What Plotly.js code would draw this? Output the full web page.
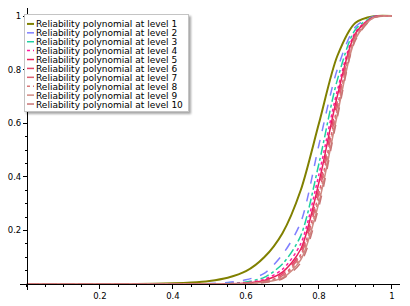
<!DOCTYPE html>
<html><head><meta charset="utf-8">
<script src="https://cdn.plot.ly/plotly-3.0.1.min.js"></script>
<style>body{margin:0;background:#fff}#c{width:410px;height:306px}</style>
</head><body><div id="c"></div>
<script>
const xs = [0, 0.1, 0.2, 0.3, 0.4, 0.45, 0.5, 0.55, 0.6, 0.65, 0.7, 0.75, 0.8, 0.85, 0.9, 0.95, 1];
const level1  = [0, 0, 0.0001, 0.0005, 0.003, 0.006, 0.012, 0.024, 0.048, 0.1, 0.19, 0.35, 0.6, 0.85, 0.975, 0.999, 1];
const level2  = [0, 0, 0, 0, 0.0003, 0.0008, 0.002, 0.006, 0.016, 0.04, 0.11, 0.23, 0.52, 0.8, 0.96, 0.998, 1];
const level3  = [0, 0, 0, 0, 0.0001, 0.0002, 0.0005, 0.002, 0.008, 0.025, 0.075, 0.18, 0.45, 0.76, 0.95, 0.997, 1];
const level4  = [0, 0, 0, 0, 0, 0.0001, 0.0003, 0.0015, 0.005, 0.018, 0.055, 0.15, 0.41, 0.72, 0.94, 0.996, 1];
const level5  = [0, 0, 0, 0, 0, 0.0001, 0.0002, 0.001, 0.004, 0.014, 0.045, 0.13, 0.38, 0.70, 0.935, 0.996, 1];
const level6  = [0, 0, 0, 0, 0, 0, 0.0002, 0.0008, 0.0035, 0.012, 0.038, 0.12, 0.36, 0.68, 0.93, 0.995, 1];
const level7  = [0, 0, 0, 0, 0, 0, 0.0001, 0.0007, 0.003, 0.01, 0.032, 0.11, 0.34, 0.66, 0.925, 0.995, 1];
const level8  = [0, 0, 0, 0, 0, 0, 0.0001, 0.0006, 0.0026, 0.008, 0.027, 0.10, 0.32, 0.645, 0.92, 0.994, 1];
const level9  = [0, 0, 0, 0, 0, 0, 0.0001, 0.0005, 0.0023, 0.007, 0.023, 0.09, 0.305, 0.63, 0.915, 0.994, 1];
const level10 = [0, 0, 0, 0, 0, 0, 0, 0.0005, 0.002, 0.006, 0.02, 0.08, 0.29, 0.62, 0.91, 0.993, 1];
const names = ["Reliability polynomial at level 1","Reliability polynomial at level 2","Reliability polynomial at level 3","Reliability polynomial at level 4","Reliability polynomial at level 5","Reliability polynomial at level 6","Reliability polynomial at level 7","Reliability polynomial at level 8","Reliability polynomial at level 9","Reliability polynomial at level 10"];
const xTickVals = [0.2, 0.4, 0.6, 0.8, 1];
const xTickText = ["0.2", "0.4", "0.6", "0.8", "1"];
const yTickVals = [0.2, 0.4, 0.6, 0.8, 1];
const yTickText = ["0.2", "0.4", "0.6", "0.8", "1"];

const series = [level1, level2, level3, level4, level5, level6, level7, level8, level9, level10];
const colors = ["#808000", "#7f7fff", "#20d0a0", "#ff1aa0", "#e8205a", "#e24468", "#dc6070", "#d87878", "#cf8a82", "#c87474"];
const dashes = ["solid", "dash", "dashdot", "dot", "solid", "dash", "dashdot", "dot", "solid", "dash"];
const widths = [2, 1.5, 1.5, 1.5, 1.5, 1.5, 1.5, 1.5, 1.5, 1.5];

const traces = series.map((ys, i) => ({
  x: xs, y: ys, name: names[i], type: "scatter", mode: "lines",
  line: {color: colors[i], dash: dashes[i], width: widths[i], shape: "spline", smoothing: 0.8}
}));

const layout = {
  width: 410, height: 306,
  margin: {l: 20, r: 10, t: 8, b: 16, pad: 0},
  paper_bgcolor: "#fff", plot_bgcolor: "#fff",
  font: {family: "DejaVu Sans", size: 8, color: "#000"},
  showlegend: true,
  legend: {x: 0.0105, y: 0.979, xanchor: "left", yanchor: "top", bgcolor: "#fff",
           bordercolor: "#c4c4c4", borderwidth: 1, font: {family: "DejaVu Sans", size: 9, color: "#000"},
           itemwidth: 30, tracegroupgap: 0},
  xaxis: {range: [-0.019, 1.022], anchor: "free", position: 0.0209, showgrid: false, zeroline: false,
          showline: true, linecolor: "#000", linewidth: 1,
          tickmode: "array", tickvals: xTickVals, ticktext: xTickText, ticks: "outside", ticklen: 4,
          tickcolor: "#000", tickfont: {family: "DejaVu Sans", size: 8.5},
          minor: {dtick: 0.05, ticks: "outside", ticklen: 2, tickcolor: "#000", showgrid: false}},
  yaxis: {range: [-0.022, 1.03], anchor: "free", position: 0.0183, showgrid: false, zeroline: false,
          showline: true, linecolor: "#000", linewidth: 1,
          tickmode: "array", tickvals: yTickVals, ticktext: yTickText, ticks: "outside", ticklen: 4,
          tickcolor: "#000", tickfont: {family: "DejaVu Sans", size: 8.5},
          minor: {dtick: 0.05, ticks: "outside", ticklen: 2, tickcolor: "#000", showgrid: false}}
};
Plotly.newPlot("c", traces, layout, {displayModeBar: false, staticPlot: true}).then(gd => {
  // compact the legend rows to match the reference's tight spacing
  const leg = gd.querySelector("g.legend");
  if (!leg) return;
  const rowGap = 8.9, firstRow = 10;
  leg.querySelectorAll("g.traces").forEach((g, i) => {
    g.setAttribute("transform", "translate(0," + (firstRow + i * rowGap) + ")");
    const t = g.querySelector("text.legendtext");
    if (t) t.setAttribute("x", 12);
    g.querySelectorAll("g.legendlines path").forEach(p => p.setAttribute("d", "M3,0h7"));
  });
  const bg = leg.querySelector("rect.bg");
  if (bg) {
    bg.setAttribute("width", 164);
    bg.setAttribute("height", 97);
    bg.style.filter = "drop-shadow(2px 2px 1px rgba(0,0,0,0.35))";
  }
  leg.querySelectorAll("clipPath rect").forEach(r => { r.setAttribute("width", 170); r.setAttribute("height", 100); });
});
</script></body></html>
